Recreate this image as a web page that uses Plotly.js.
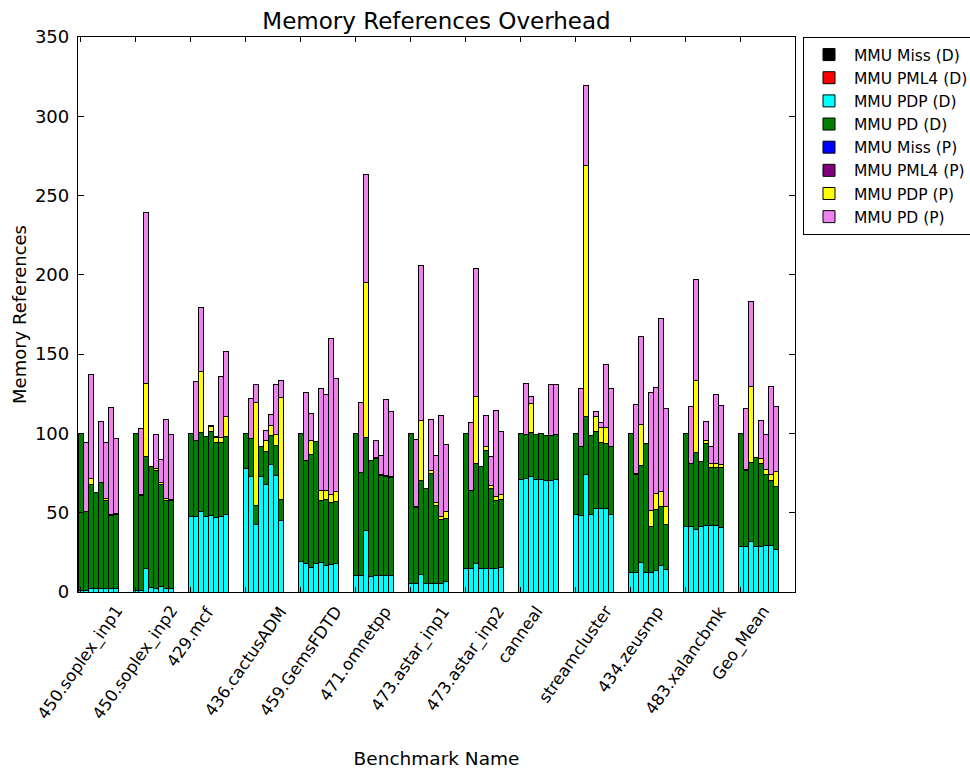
<!DOCTYPE html>
<html><head><meta charset="utf-8">
<script src="https://cdn.plot.ly/plotly-3.0.1.min.js"></script>
<style>html,body{margin:0;padding:0;background:#fff}#chart{width:970px;height:769px}</style>
</head><body><div id="chart"></div>
<script>
const benchmarks = ["450.soplex_inp1","450.soplex_inp2","429.mcf","436.cactusADM","459.GemsFDTD","471.omnetpp","473.astar_inp1","473.astar_inp2","canneal","streamcluster","434.zeusmp","483.xalancbmk","Geo_Mean"];
const seriesNames = ["MMU Miss (D)","MMU PML4 (D)","MMU PDP (D)","MMU PD (D)","MMU Miss (P)","MMU PML4 (P)","MMU PDP (P)","MMU PD (P)"];
const seriesColors = ["#000000","#ff0000","#00ffff","#008000","#0000ff","#800080","#ffff00","#ee82ee"];

// 8 configurations per benchmark, one row per benchmark
const missD = [
 0,0,0,0,0,0,0,0, 0,0,0,0,0,0,0,0, 0,0,0,0,0,0,0,0, 0,0,0,0,0,0,0,0,
 0,0,0,0,0,0,0,0, 0,0,0,0,0,0,0,0, 0,0,0,0,0,0,0,0, 0,0,0,0,0,0,0,0,
 0,0,0,0,0,0,0,0, 0,0,0,0,0,0,0,0, 0,0,0,0,0,0,0,0, 0,0,0,0,0,0,0,0,
 0,0,0,0,0,0,0,0];
const pml4D = [
 0,0,0,0,0,0,0,0, 0,0,0,0,0,0,0,0, 0,0,0,0,0,0,0,0, 0,0,0,0,0,0,0,0,
 0,0,0,0,0,0,0,0, 0,0,0,0,0,0,0,0, 0,0,0,0,0,0,0,0, 0,0,0,0,0,0,0,0,
 0,0,0,0,0,0,0,0, 0,0,0,0,0,0,0,0, 0,0,0,0,0,0,0,0, 0,0,0,0,0,0,0,0,
 0,0,0,0,0,0,0,0];
const pdpD = [
 1, 1, 2.3, 2, 2, 2, 2, 2,
 1, 1, 14.7, 2.8, 2, 3.2, 2.5, 2,
 47.9, 47.9, 50.6, 47.9, 48.5, 47, 47.5, 49.1,
 77.9, 73.1, 42.6, 73.1, 68, 80.7, 73.7, 44.9,
 19.1, 18.1, 15.5, 18.1, 18.5, 17, 17.6, 18.1,
 10.7, 10.1, 39.1, 9.7, 10.7, 10.1, 10.7, 10.1,
 5.5, 5.2, 11.3, 5.5, 5.5, 5.5, 5.5, 6.5,
 14.9, 14.9, 18.1, 14.9, 14.9, 14.9, 14.9, 15.3,
 71, 71.6, 73.1, 71, 71, 70.6, 70.6, 71,
 48.9, 48.3, 74.1, 48.9, 52.5, 52.5, 52.5, 48.9,
 12.2, 12.2, 18.5, 12.6, 12.6, 13.7, 16.8, 13.9,
 41.6, 41.6, 39.5, 41.6, 42, 42, 42, 40.5,
 29, 28.6, 31.7, 29, 29, 29.6, 29.3, 26.5];
const pdD = [
 99, 49.6, 65.7, 60.6, 66.9, 56, 46.5, 47.1,
 99, 60, 71, 76.6, 74.9, 64.8, 55.5, 56,
 52.1, 47.5, 50, 50.4, 52.5, 47.1, 46.6, 49.2,
 22.1, 23.7, 12.2, 18.9, 20.4, 17.8, 18.9, 13.5,
 80.9, 64.6, 71.5, 76.6, 39.5, 41.4, 38.7, 38.8,
 89.3, 65.1, 58.1, 73.5, 73.5, 63.6, 62.4, 62.1,
 94.5, 48.1, 59.3, 59.8, 69.3, 49.3, 40.3, 39.9,
 85.1, 48.9, 63, 64.5, 74.6, 50.4, 42.6, 43.1,
 29, 28, 27.3, 28.4, 29, 28.3, 28.3, 28.4,
 51.1, 43.3, 36.8, 49.8, 48.9, 41.6, 41, 42.7,
 87.8, 61.9, 61.3, 80.9, 29, 38.4, 37.4, 28.7,
 58.4, 39.3, 48.3, 40.9, 51.5, 36.8, 36.8, 37.8,
 71, 48.3, 49.8, 55.9, 52.1, 44.8, 41.3, 40.3];
const missP = [
 0,0,0,0,0,0,0,0, 0,0,0,0,0,0,0,0, 0,0,0,0,0,0,0,0, 0,0,0,0,0,0,0,0,
 0,0,0,0,0,0,0,0, 0,0,0,0,0,0,0,0, 0,0,0,0,0,0,0,0, 0,0,0,0,0,0,0,0,
 0,0,0,0,0,0,0,0, 0,0,0,0,0,0,0,0, 0,0,0,0,0,0,0,0, 0,0,0,0,0,0,0,0,
 0,0,0,0,0,0,0,0];
const pml4P = [
 0,0,0,0,0,0,0,0, 0,0,0,0,0,0,0,0, 0,0,0,0,0,0,0,0, 0,0,0,0,0,0,0,0,
 0,0,0,0,0,0,0,0, 0,0,0,0,0,0,0,0, 0,0,0,0,0,0,0,0, 0,0,0,0,0,0,0,0,
 0,0,0,0,0,0,0,0, 0,0,0,0,0,0,0,0, 0,0,0,0,0,0,0,0, 0,0,0,0,0,0,0,0,
 0,0,0,0,0,0,0,0];
const pdpP = [
 0, 0.4, 3.6, 0, 0.4, 0.8, 0.4, 0.4,
 0, 0.4, 45.8, 0, 1, 1, 1, 0.5,
 0, 0, 38.7, 0, 3.2, 3.4, 3.4, 12.6,
 0, 0, 64.5, 0, 7.4, 6.7, 7, 64.3,
 0, 0, 8.8, 0, 5.8, 5.3, 5.5, 6.3,
 0, 0.4, 97.9, 0, 0.5, 0.5, 0.4, 0.4,
 0, 0.4, 37.8, 0, 1.7, 1.5, 2.1, 4.2,
 0, 0.4, 42, 0, 2.1, 2.1, 3, 3.4,
 0, 0, 18.5, 0, 0, 0, 0, 0,
 0, 0, 157.9, 0, 9.5, 9.4, 10, 0,
 0, 0.4, 25.8, 0, 9.9, 10.1, 9.4, 11.6,
 0, 0.4, 45.8, 0, 2.1, 2.1, 2.1, 2.2,
 0, 0.4, 47.9, 0, 3.1, 2.9, 3.5, 9];
const pdP = [
 0, 43.1, 65.8, 0, 38, 35.3, 67.5, 47.3,
 0, 41.6, 107.9, 0, 21.4, 14.6, 49.8, 41.1,
 0, 37.6, 40.1, 0, 0.8, 0.6, 38.6, 40.5,
 0, 25.2, 11.8, 0, 6.3, 6.8, 31.3, 10.7,
 0, 43.1, 16.8, 0, 64.5, 60.8, 98, 71.4,
 0, 43.7, 68.3, 0, 11.1, 12.1, 47.9, 41,
 0, 42.7, 97.2, 0, 32.3, 30, 63.6, 42.7,
 0, 42.5, 80.9, 0, 19.5, 18.3, 54.2, 39.6,
 0, 31.9, 4.6, 0, 0, 0, 32.2, 31.7,
 0, 36.5, 50.4, 0, 3.2, 3.6, 39.8, 36.5,
 0, 43.7, 55.7, 0, 74.5, 66.6, 108.6, 61.5,
 0, 35.9, 63.4, 0, 11.7, 11.1, 43.6, 37.1,
 0, 38.4, 54, 0, 24.2, 22, 55.7, 41.4];
const yTicks = [0, 50, 100, 150, 200, 250, 300, 350];

const seriesValues = [missD, pml4D, pdpD, pdD, missP, pml4P, pdpP, pdP];
const configsPerGroup = 8;
const groupStride = configsPerGroup + 3;

const xs = [];
for (let g = 0; g < benchmarks.length; g++)
  for (let j = 0; j < configsPerGroup; j++) xs.push(g * groupStride + j + 0.5);
const tickPos = benchmarks.map((b, g) => g * groupStride + 0.5);

const FONT = "DejaVu Sans, Bitstream Vera Sans, sans-serif";

const traces = seriesNames.map((name, i) => ({
  type: "bar", name: name, x: xs, y: seriesValues[i], width: 1,
  marker: {color: seriesColors[i], line: {color: "#000", width: 1}},
  hoverinfo: "name+y"
}));

const annotations = benchmarks.map((b, g) => ({
  text: b, x: tickPos[g], xref: "x", y: 0, yref: "paper", yshift: -8,
  xanchor: "center", yanchor: "top", textangle: -55, showarrow: false,
  font: {family: FONT, size: 16.5, color: "#000"}
}));

const layout = {
  width: 970, height: 769,
  margin: {l: 78, r: 175, t: 37, b: 177},
  paper_bgcolor: "#fff", plot_bgcolor: "#fff",
  barmode: "stack",
  font: {family: FONT, color: "#000"},
  title: {text: "Memory References Overhead", font: {family: FONT, size: 23, color: "#000"},
          x: 0.5, xref: "paper", xanchor: "center", y: 1 - 21 / 769, yref: "container", yanchor: "middle"},
  xaxis: {range: [0, 143.4], tickvals: tickPos, showticklabels: false,
          ticks: "inside", ticklen: 5, tickwidth: 1, tickcolor: "#000",
          showline: true, linecolor: "#000", linewidth: 1.3, mirror: "ticks",
          showgrid: false, zeroline: false,
          title: {text: "Benchmark Name", font: {family: FONT, size: 18.5, color: "#000"}, standoff: 159}},
  yaxis: {range: [0, 350], tickvals: yTicks, ticks: "inside", ticklen: 6, tickwidth: 1, tickcolor: "#000",
          showline: true, linecolor: "#000", linewidth: 1.3, mirror: "ticks",
          showgrid: false, zeroline: false, ticklabelstandoff: 4,
          tickfont: {family: FONT, size: 18, color: "#000"},
          title: {text: "Memory References", font: {family: FONT, size: 18, color: "#000"}, standoff: 3}},
  legend: {x: 803 / 970, xref: "container", y: 1 - 37 / 769, yref: "container",
           xanchor: "left", yanchor: "top", traceorder: "normal", itemwidth: 40,
           bordercolor: "#000", borderwidth: 1, bgcolor: "#fff",
           font: {family: FONT, size: 15.5, color: "#000"}, tracegroupgap: 0},
  annotations: annotations,
  showlegend: true
};

Plotly.newPlot("chart", traces, layout, {displayModeBar: false, responsive: false});
</script>
</body></html>
